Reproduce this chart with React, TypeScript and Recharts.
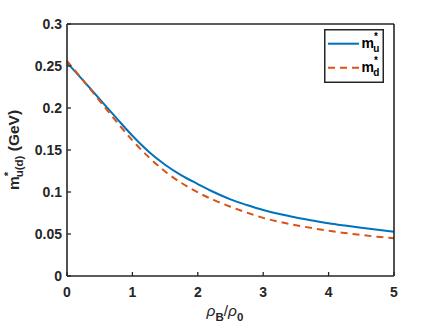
import { LineChart, Line, XAxis, YAxis, Legend } from 'recharts';

const density = [0, 0.25, 0.5, 0.75, 1, 1.25, 1.5, 1.75, 2, 2.25, 2.5, 2.75, 3, 3.25, 3.5, 3.75, 4, 4.25, 4.5, 4.75, 5];
const muStar = [0.254, 0.2325, 0.2105, 0.1885, 0.167, 0.148, 0.1325, 0.1198, 0.1095, 0.0997, 0.0912, 0.0845, 0.0785, 0.0737, 0.0697, 0.0662, 0.0628, 0.06, 0.0574, 0.055, 0.0528];
const mdStar = [0.256, 0.2325, 0.2085, 0.1845, 0.1615, 0.1415, 0.1245, 0.1107, 0.0995, 0.0903, 0.0825, 0.0755, 0.0692, 0.0645, 0.0605, 0.057, 0.0538, 0.0512, 0.0488, 0.0467, 0.0448];
const xTicks = [0, 1, 2, 3, 4, 5];
const yTicks = [0, 0.05, 0.1, 0.15, 0.2, 0.25, 0.3];
const seriesOrder = ['mu', 'md'];

const data = density.map((x, i) => ({ x, mu: muStar[i], md: mdStar[i] }));

const AXIS = '#262626';
const BLUE = '#0072BD';
const RED = '#D95319';
const FONT = '"Liberation Sans", Arial, Helvetica, sans-serif';
const TICK = 4;
const tickLineStyle = { stroke: AXIS, strokeWidth: 1.3 };

// with a negative tickSize the tick marks point into the plot; x/y here sit TICK px inside the axis
const BottomTick = ({ x, y, payload }: any) => (
  <text x={x} y={y + TICK + 21} textAnchor="middle" fontFamily={FONT} fontWeight="bold" fontSize={14} fill={AXIS}>
    {payload.value}
  </text>
);

const LeftTick = ({ x, y, payload }: any) => (
  <text x={x - TICK - 5} y={y + 5} textAnchor="end" fontFamily={FONT} fontWeight="bold" fontSize={14} fill={AXIS}>
    {String(payload.value)}
  </text>
);

const YLabel = ({ viewBox }: any) => {
  const cy = viewBox.y + viewBox.height / 2;
  return (
    <text transform="rotate(-90)" x={-cy} y={19} textAnchor="middle" fontFamily={FONT} fontWeight="bold" fontSize={15.5} fill={AXIS}>
      m
      <tspan fontSize={11.5} dy={-7}>*</tspan>
      <tspan fontSize={11.5} dx={-5.5} dy={11}>u(d)</tspan>
      <tspan dy={-4}> (GeV)</tspan>
    </text>
  );
};

const XLabel = () => (
  <text x={225} y={316} textAnchor="middle" fontFamily={FONT} fontSize={15.5} fill={AXIS}>
    <tspan fontStyle="italic">ρ</tspan>
    <tspan fontSize={11.5} fontWeight="bold" dy={5}>B</tspan>
    <tspan dy={-5}>/</tspan>
    <tspan fontStyle="italic">ρ</tspan>
    <tspan fontSize={11.5} fontWeight="bold" dy={5}>0</tspan>
  </text>
);

const subs: Record<string, string> = { mu: 'u', md: 'd' };

const LegendBox = ({ payload }: any) => {
  const items = [...(payload || [])].sort(
    (a: any, b: any) => seriesOrder.indexOf(a.dataKey) - seriesOrder.indexOf(b.dataKey)
  );
  return (
    <svg width={60} height={54} style={{ display: 'block' }}>
      <rect x={0.75} y={0.75} width={58.5} height={52.5} fill="#fff" stroke={AXIS} strokeWidth={1.5} />
      {items.map((entry: any, i: number) => {
        const cy = 14.7 + i * 24;
        return (
          <g key={entry.dataKey}>
            <line x1={4} x2={35} y1={cy} y2={cy} stroke={entry.color} strokeWidth={2} strokeDasharray={entry.payload?.strokeDasharray} />
            <text x={37.5} y={cy + 4.6} fontFamily={FONT} fontWeight="bold" fontSize={14} fill="#000">
              m
              <tspan fontSize={10} dy={-8}>*</tspan>
              <tspan fontSize={10} dx={-4.5} dy={12}>{subs[entry.dataKey]}</tspan>
            </text>
          </g>
        );
      })}
    </svg>
  );
};

export default function App() {
  return (
    <div style={{ position: 'absolute', left: 0, top: 0, background: '#fff' }}>
      <LineChart width={436} height={327} data={data} margin={{ top: 23, right: 41, bottom: 0, left: 0 }}>
        <XAxis
          xAxisId="b"
          type="number"
          dataKey="x"
          domain={[0, 5]}
          ticks={xTicks}
          height={51}
          tickSize={-TICK}
          tickMargin={0}
          tickLine={tickLineStyle}
          axisLine={{ stroke: AXIS, strokeWidth: 1.6 }}
          tick={<BottomTick />}
          label={<XLabel />}
        />
        <XAxis
          xAxisId="t"
          orientation="top"
          type="number"
          dataKey="x"
          domain={[0, 5]}
          ticks={xTicks}
          height={1}
          tickSize={-TICK}
          tickLine={tickLineStyle}
          axisLine={{ stroke: AXIS, strokeWidth: 1.6 }}
          tick={false}
        />
        <YAxis
          yAxisId="l"
          type="number"
          domain={[0, 0.3]}
          ticks={yTicks}
          width={67}
          tickSize={-TICK}
          tickMargin={0}
          tickLine={tickLineStyle}
          axisLine={{ stroke: AXIS, strokeWidth: 1.6 }}
          tick={<LeftTick />}
          label={<YLabel />}
        />
        <YAxis
          yAxisId="r"
          orientation="right"
          type="number"
          domain={[0, 0.3]}
          ticks={yTicks}
          width={1}
          tickSize={-TICK}
          tickLine={tickLineStyle}
          axisLine={{ stroke: AXIS, strokeWidth: 1.6 }}
          tick={false}
        />
        <Line
          xAxisId="b"
          yAxisId="l"
          type="monotone"
          dataKey="mu"
          name="mu"
          stroke={BLUE}
          strokeWidth={2}
          dot={false}
          isAnimationActive={false}
        />
        <Line
          xAxisId="b"
          yAxisId="l"
          type="monotone"
          dataKey="md"
          name="md"
          stroke={RED}
          strokeWidth={2}
          strokeDasharray="7 5"
          dot={false}
          isAnimationActive={false}
        />
        <Legend
          layout="vertical"
          align="center"
          verticalAlign="middle"
          content={<LegendBox />}
          wrapperStyle={{ left: 324, top: 29, width: 60, height: 54 }}
        />
      </LineChart>
    </div>
  );
}
